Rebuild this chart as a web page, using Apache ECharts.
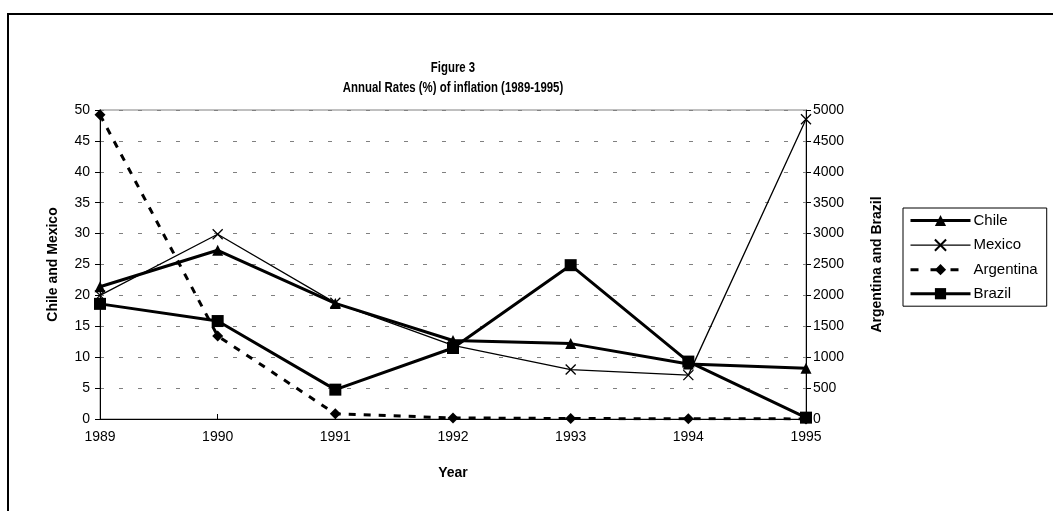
<!DOCTYPE html>
<html>
<head>
<meta charset="utf-8">
<script src="https://cdn.jsdelivr.net/npm/echarts@6/dist/echarts.min.js"></script>
<style>
  html, body { margin: 0; padding: 0; background: #fff; }
  #chart { width: 1053px; height: 511px; }
</style>
</head>
<body>
<div id="chart"></div>
<script>
// data
const years = ['1989', '1990', '1991', '1992', '1993', '1994', '1995']
const chile = [21.4, 27.3, 18.7, 12.7, 12.2, 8.9, 8.2]        // left axis
const mexico = [20.0, 29.9, 18.8, 11.9, 8.0, 7.1, 48.5]       // left axis
const argentina = [4923, 1344, 84, 17.5, 7.4, 3.9, 1.6]       // right axis
const brazil = [1863, 1585, 475, 1149, 2489, 929, 22]         // right axis
const titleLines = ['Figure 3', 'Annual Rates (%) of inflation (1989-1995)']

const font = 'Liberation Sans, Arial, sans-serif'
const chart = echarts.init(document.getElementById('chart'))

// 标题字体偏窄, 用 scaleX 压一下
const titleText = (text, y) => ({
  type: 'text',
  x: 453,
  y: y,
  scaleX: 0.76,
  silent: true,
  style: {
    text: text,
    fontFamily: font,
    fontSize: 15,
    fontWeight: 'bold',
    fill: '#000',
    align: 'center',
    verticalAlign: 'middle'
  }
})

const options = {
  animation: false,
  backgroundColor: '#fff',
  graphic: [{
    // 外框
    type: 'rect',
    shape: { x: 8, y: 14, width: 1100, height: 600 },
    style: { fill: 'none', stroke: '#000', lineWidth: 2 },
    silent: true
  }, titleText(titleLines[0], 68), titleText(titleLines[1], 88)],
  legend: {
    orient: 'vertical',
    left: 903,
    top: 208,
    padding: [5, 9, 5, 6],
    itemGap: 9,
    itemWidth: 60,
    itemHeight: 14,
    borderColor: '#000',
    borderWidth: 1,
    textStyle: { fontFamily: font, fontSize: 15, color: '#000', padding: [0, 0, 0, -2] },
    data: [
      { name: 'Chile', lineStyle: { width: 3 } },
      { name: 'Mexico', lineStyle: { width: 1.3 } },
      { name: 'Argentina', lineStyle: { width: 3, type: [8, 12] } },
      { name: 'Brazil', lineStyle: { width: 3 } }
    ]
  },
  grid: {
    left: 100,
    right: 247,
    top: 110,
    bottom: 92,
    show: true,
    borderColor: '#808080',
    borderWidth: 1
  },
  xAxis: {
    type: 'category',
    data: years,
    boundaryGap: false,
    name: 'Year',
    nameLocation: 'middle',
    nameGap: 47,
    nameTextStyle: { fontFamily: font, fontSize: 14, fontWeight: 'bold', color: '#000' },
    axisLine: { lineStyle: { color: '#000', width: 1 } },
    axisTick: { inside: true, length: 5, lineStyle: { color: '#000' } },
    axisLabel: { fontFamily: font, fontSize: 14, color: '#000', margin: 11 },
    splitLine: { show: false }
  },
  yAxis: [{
    type: 'value',
    min: 0,
    max: 50,
    interval: 5,
    name: 'Chile and Mexico',
    nameLocation: 'middle',
    nameGap: 40,
    nameTextStyle: { fontFamily: font, fontSize: 14, fontWeight: 'bold', color: '#000' },
    axisLine: { show: true, lineStyle: { color: '#000', width: 1 } },
    axisTick: { show: true, length: 5, lineStyle: { color: '#000' } },
    axisLabel: { fontFamily: font, fontSize: 14, color: '#000', margin: 10 },
    splitLine: { show: true, lineStyle: { color: '#808080', type: [4, 15], width: 1 } }
  }, {
    type: 'value',
    min: 0,
    max: 5000,
    interval: 500,
    position: 'right',
    name: 'Argentina and Brazil',
    nameLocation: 'middle',
    nameGap: 64,
    nameTextStyle: { fontFamily: font, fontSize: 14, fontWeight: 'bold', color: '#000' },
    axisLine: { show: true, lineStyle: { color: '#000', width: 1 } },
    axisTick: { show: true, length: 5, lineStyle: { color: '#000' } },
    axisLabel: { fontFamily: font, fontSize: 14, color: '#000', margin: 7, formatter: v => String(v) },
    splitLine: { show: false }
  }],
  series: [{
    name: 'Chile',
    type: 'line',
    yAxisIndex: 0,
    data: chile,
    symbol: 'triangle',
    symbolSize: 11,
    showAllSymbol: true,
    lineStyle: { color: '#000', width: 3 },
    itemStyle: { color: '#000' },
    z: 4
  }, {
    name: 'Mexico',
    type: 'line',
    yAxisIndex: 0,
    data: mexico,
    symbol: 'path://M0,0L10,10M10,0L0,10',
    symbolSize: 10,
    showAllSymbol: true,
    lineStyle: { color: '#000', width: 1.3 },
    itemStyle: { color: 'none', borderColor: '#000', borderWidth: 1.3 },
    z: 3
  }, {
    name: 'Argentina',
    type: 'line',
    yAxisIndex: 1,
    data: argentina,
    symbol: 'diamond',
    symbolSize: 11,
    showAllSymbol: true,
    lineStyle: { color: '#000', width: 3, type: [7, 8] },
    itemStyle: { color: '#000' },
    z: 2
  }, {
    name: 'Brazil',
    type: 'line',
    yAxisIndex: 1,
    data: brazil,
    symbol: 'rect',
    symbolSize: 12,
    showAllSymbol: true,
    lineStyle: { color: '#000', width: 3 },
    itemStyle: { color: '#000' },
    z: 5
  }]
}

chart.setOption(options)
</script>
</body>
</html>
